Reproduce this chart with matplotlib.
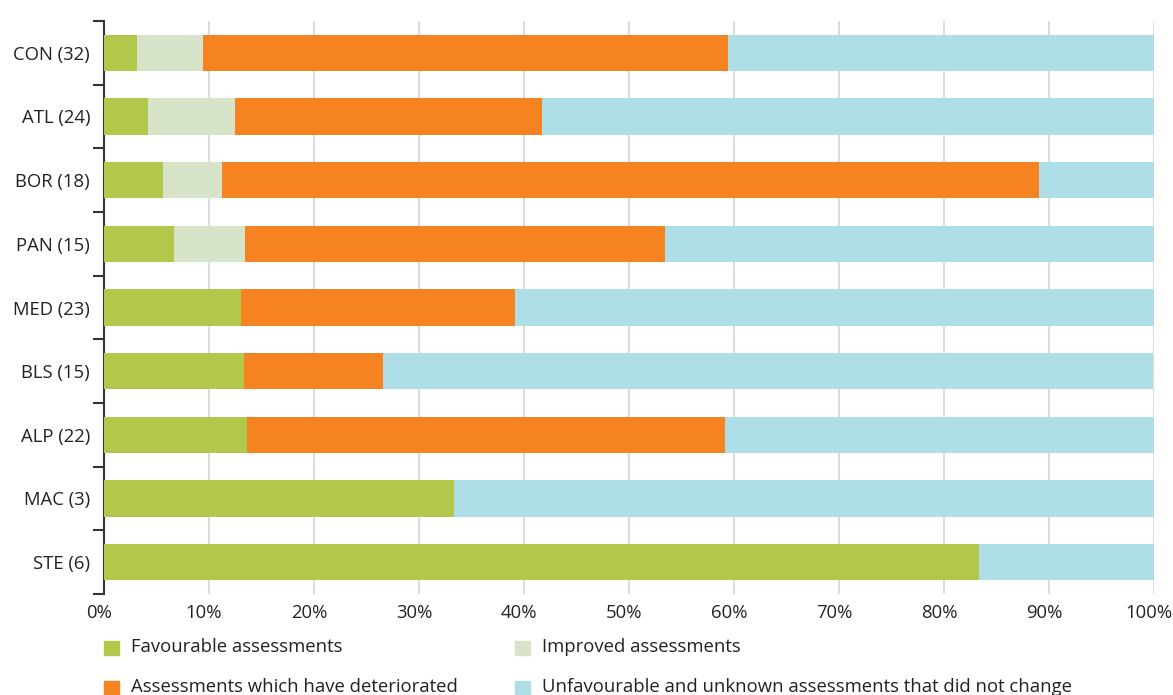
import matplotlib
matplotlib.use("Agg")
import matplotlib.pyplot as plt
from matplotlib.patches import Rectangle
from matplotlib.transforms import ScaledTranslation
import numpy as np

plt.rcParams['font.family'] = ['Open Sans', 'DejaVu Sans']

categories = ["CON (32)", "ATL (24)", "BOR (18)", "PAN (15)", "MED (23)",
              "BLS (15)", "ALP (22)", "MAC (3)", "STE (6)"]
favourable = [3.1, 4.2, 5.6, 6.7, 13.0, 13.3, 13.6, 33.3, 83.3]
improved = [6.3, 8.3, 5.6, 6.7, 0.0, 0.0, 0.0, 0.0, 0.0]
deteriorated = [50.0, 29.2, 77.8, 40.0, 26.1, 13.3, 45.5, 0.0, 0.0]
unchanged = [40.6, 58.3, 11.1, 46.7, 60.9, 73.3, 40.9, 66.7, 16.7]
series_names = ["Favourable assessments", "Improved assessments",
                "Assessments which have deteriorated",
                "Unfavourable and unknown assessments that did not change"]
colors = ["#b2c84a", "#d7e4c9", "#f58322", "#aedfe6"]
xticks = [0, 10, 20, 30, 40, 50, 60, 70, 80, 90, 100]

W, H = 1173, 695
fs = 13.3
fig = plt.figure(figsize=(W / 100, H / 100), dpi=100)
ax = fig.add_axes([104 / W, 1 - 594 / H, (1154 - 104) / W, (594 - 21) / H])

y = np.arange(len(categories))
left = np.zeros(len(categories))
for vals, c in zip([favourable, improved, deteriorated, unchanged], colors):
    ax.barh(y, vals, left=left, height=0.57, color=c, zorder=3, linewidth=0)
    left += np.array(vals)

ax.set_ylim(len(categories) - 0.5, -0.5)
ax.set_xlim(0, 100)
ax.set_yticks(y)
ax.set_yticklabels(categories, fontsize=fs, color="#222222")
ax.set_yticks(np.arange(-0.5, len(categories)), minor=True)
ax.tick_params(axis='y', which='major', length=0, pad=10)
ax.tick_params(axis='y', which='minor', length=8, width=1.5, color="#333333")
ax.set_xticks(xticks)
ax.set_xticklabels([f"{t}%" for t in xticks], fontsize=fs, color="#222222")
ax.tick_params(axis='x', length=0, pad=7)
shift = ScaledTranslation(-5 / 100, 0, fig.dpi_scale_trans)
for lab in ax.get_xticklabels():
    lab.set_transform(lab.get_transform() + shift)
ax.grid(axis='x', color="#d2d2d2", linewidth=1.1, zorder=0)
for s in ['top', 'right', 'bottom']:
    ax.spines[s].set_visible(False)
ax.spines['left'].set_color("#333333")
ax.spines['left'].set_linewidth(1.5)

# legend (two columns)
pos = [(104, 648), (515, 648), (104, 688), (515, 688)]
for (px, py), i in zip(pos, range(4)):
    fig.patches.append(Rectangle((px / W, 1 - (py + 7) / H), 15 / W, 14 / H,
                                 transform=fig.transFigure, color=colors[i]))
    fig.text((px + 27) / W, 1 - (py - 1) / H, series_names[i], fontsize=fs,
             color="#222222", va='center', ha='left')

fig.savefig("out.png", dpi=100)
